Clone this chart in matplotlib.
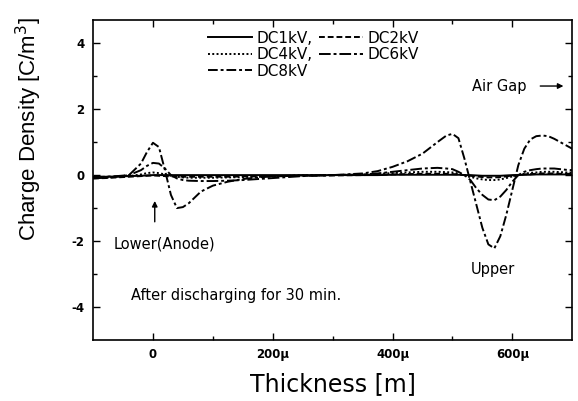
import matplotlib.pyplot as plt

plt.rcParams['font.family'] = ['DejaVu Sans']
plt.rcParams['axes.unicode_minus'] = False

# thickness positions in micrometres
x_um = [-100, -80, -60, -40, -20, -10, 0, 10, 20, 30, 40, 50, 60, 80, 100,
        125, 150, 175, 200, 250, 300, 350, 375, 400, 425, 450, 475, 490, 500,
        510, 520, 530, 540, 550, 560, 570, 580, 590, 600, 610, 620, 630, 640,
        650, 660, 670, 680, 690, 700]

dc8 = [-0.10, -0.08, -0.05, 0.00, 0.35, 0.70, 0.98, 0.85, 0.15, -0.60, -1.00,
       -0.97, -0.85, -0.50, -0.32, -0.20, -0.12, -0.07, -0.04, -0.01, 0.00,
       0.05, 0.12, 0.25, 0.42, 0.65, 1.00, 1.20, 1.25, 1.12, 0.50, -0.20,
       -0.90, -1.60, -2.10, -2.22, -1.85, -1.20, -0.45, 0.30, 0.80, 1.08,
       1.18, 1.20, 1.18, 1.10, 1.00, 0.90, 0.80]
dc6 = [-0.05, -0.05, -0.03, 0.00, 0.15, 0.28, 0.37, 0.35, 0.20, 0.00, -0.10,
       -0.15, -0.17, -0.18, -0.18, -0.17, -0.15, -0.12, -0.09, -0.03, 0.00,
       0.02, 0.05, 0.10, 0.15, 0.20, 0.22, 0.20, 0.18, 0.10, 0.00, -0.15,
       -0.40, -0.60, -0.74, -0.76, -0.65, -0.45, -0.20, 0.00, 0.10, 0.15,
       0.18, 0.20, 0.20, 0.20, 0.18, 0.16, 0.15]
dc4 = [-0.08, -0.07, -0.05, -0.03, 0.02, 0.06, 0.08, 0.06, 0.02, -0.02, -0.05,
       -0.07, -0.08, -0.08, -0.08, -0.07, -0.06, -0.05, -0.04, -0.01, 0.00,
       0.02, 0.04, 0.06, 0.08, 0.10, 0.10, 0.09, 0.08, 0.05, 0.00, -0.05,
       -0.10, -0.13, -0.15, -0.15, -0.13, -0.09, -0.04, 0.00, 0.04, 0.07,
       0.08, 0.10, 0.10, 0.10, 0.09, 0.08, 0.08]
dc2 = [-0.10, -0.09, -0.07, -0.05, -0.03, -0.02, -0.01, -0.02, -0.03, -0.04,
       -0.04, -0.05, -0.05, -0.05, -0.05, -0.05, -0.04, -0.04, -0.03, -0.02,
       -0.01, 0.00, 0.01, 0.02, 0.03, 0.04, 0.04, 0.04, 0.03, 0.02, 0.00,
       -0.02, -0.04, -0.06, -0.07, -0.07, -0.06, -0.04, -0.02, 0.00, 0.02,
       0.03, 0.04, 0.05, 0.05, 0.05, 0.04, 0.04, 0.04]
dc1 = [-0.06, -0.05, -0.04, -0.03, -0.02, -0.01, 0.00, 0.00, 0.00, 0.00,
       0.00, 0.00, 0.00, 0.00, 0.00, 0.00, 0.00, 0.00, 0.00, 0.00, 0.00,
       0.00, 0.00, 0.01, 0.01, 0.01, 0.01, 0.01, 0.01, 0.01, 0.00, 0.00,
       -0.01, -0.02, -0.02, -0.02, -0.02, -0.01, 0.00, 0.00, 0.01, 0.01,
       0.02, 0.02, 0.02, 0.02, 0.02, 0.02, 0.02]

x_ticks = [0, 200, 400, 600]
x_tick_labels = ['0', '200\u03bc', '400\u03bc', '600\u03bc']
y_ticks = [-4, -2, 0, 2, 4]

fig = plt.figure(figsize=(5.78, 4.01), dpi=100)
ax = fig.add_axes([0.161, 0.152, 0.829, 0.798])

lw = 1.4
l1, = ax.plot(x_um, dc1, color='k', lw=lw, ls='-')
l2, = ax.plot(x_um, dc2, color='k', lw=lw, ls=(0, (3, 1.5)))
l4, = ax.plot(x_um, dc4, color='k', lw=lw, ls=(0, (1, 1.2)))
l6, = ax.plot(x_um, dc6, color='k', lw=lw, ls=(0, (6, 1.5, 1.5, 1.5)))
l8, = ax.plot(x_um, dc8, color='k', lw=lw, ls=(0, (5, 1.5, 1.5, 1.5)))

ax.set_xlim(-100, 700)
ax.set_ylim(-5, 4.7)
ax.set_xticks(x_ticks)
ax.set_xticklabels(x_tick_labels)
ax.set_xticks([100, 300, 500], minor=True)
ax.set_yticks(y_ticks)
ax.set_yticks([-3, -1, 1, 3], minor=True)
ax.tick_params(which='both', direction='in', top=True, right=True,
               labelsize=8.5, width=1)
ax.tick_params(which='major', length=5, pad=6)
ax.tick_params(which='minor', length=3)
for lab in ax.get_xticklabels() + ax.get_yticklabels():
    lab.set_fontweight('bold')
for sp in ax.spines.values():
    sp.set_linewidth(1.2)

ax.set_xlabel('Thickness [m]', fontsize=17, labelpad=8)
ax.set_ylabel('Charge Density [C/m$^3$]', fontsize=16,
              family=['Liberation Sans', 'DejaVu Sans'])
ax.yaxis.set_label_coords(-0.103, 0.66)

handles = [l1, l4, l8, l2, l6]
labels = ['DC1kV,', 'DC4kV,', 'DC8kV', 'DC2kV', 'DC6kV']
ax.legend(handles, labels, ncol=2, loc='upper left',
          bbox_to_anchor=(0.211, 1.01), frameon=False, fontsize=11,
          handlelength=2.9, handletextpad=0.3, columnspacing=0.4,
          labelspacing=0.1)

ax.annotate('', xy=(3, -0.7), xytext=(3, -1.5),
            arrowprops=dict(arrowstyle='-|>', color='k', lw=1,
                            mutation_scale=8))
ax.text(20, -2.1, 'Lower(Anode)', fontsize=10.5, ha='center', va='center')
ax.text(568, -2.85, 'Upper', fontsize=10.5, ha='center', va='center')
ax.text(533, 2.7, 'Air Gap', fontsize=10.5, ha='left', va='center')
ax.annotate('', xy=(690, 2.7), xytext=(642, 2.7),
            arrowprops=dict(arrowstyle='-|>', color='k', lw=1,
                            mutation_scale=8))
ax.text(-37, -3.64, 'After discharging for 30 min.', fontsize=10.5,
        ha='left', va='center')

fig.savefig('out.png', dpi=100)
